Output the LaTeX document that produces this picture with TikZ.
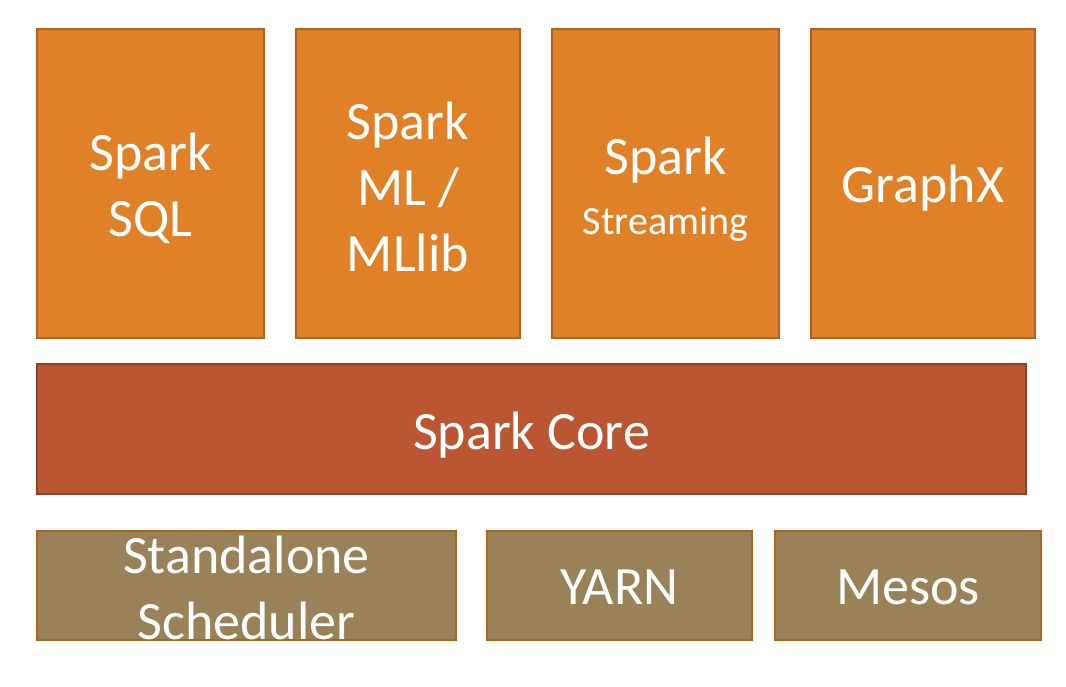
\documentclass[tikz,border=0pt]{standalone}
\usepackage{fontspec}
\setmainfont{Carlito}
\definecolor{toporange}{HTML}{E08128}
\definecolor{topborder}{HTML}{B0631E}
\definecolor{corefill}{HTML}{BA5632}
\definecolor{coreborder}{HTML}{8E3F24}
\definecolor{botfill}{HTML}{9A8258}
\definecolor{botborder}{HTML}{B5621B}
\tikzset{
  blk/.style={rectangle, inner sep=0pt, line width=2.2pt},
  txt/.style={text=white, align=center, inner sep=0pt, yshift=-5pt,
    font=\fontsize{54}{66}\selectfont},
  topbox/.style={blk, fill=toporange, draw=topborder},
  corebox/.style={blk, fill=corefill, draw=coreborder},
  botbox/.style={blk, fill=botfill, draw=botborder},
}
\begin{document}
\begin{tikzpicture}[x=1pt,y=-1pt]
\useasboundingbox (0,0) rectangle (1066,686);
% top row: y 29..338
\node[topbox, minimum width=227pt, minimum height=309pt,
  label={[txt]center:{Spark\\SQL}}] (sql) at (150.5,183.5) {};
\node[topbox, minimum width=224pt, minimum height=309pt,
  label={[txt, yshift=2pt]center:{Spark\\ML /\\MLlib}}] (ml) at (408,183.5) {};
\node[topbox, minimum width=227pt, minimum height=309pt,
  label={[txt, yshift=-1pt]center:{Spark\\[-6pt]{\fontsize{40}{48}\selectfont Streaming}}}] (stream) at (665.5,183.5) {};
\node[topbox, minimum width=224pt, minimum height=309pt,
  label={[txt]center:{GraphX}}] (graphx) at (923,183.5) {};
% core
\node[corebox, minimum width=989pt, minimum height=130pt,
  label={[txt, yshift=-1pt]center:{Spark Core}}] (core) at (531.5,429) {};
% bottom row: y 531..640
\node[botbox, minimum width=419pt, minimum height=109pt,
  label={[txt, yshift=3pt]center:{Standalone\\Scheduler}}] (standalone) at (246.5,585.5) {};
\node[botbox, minimum width=265pt, minimum height=109pt,
  label={[txt, yshift=3pt]center:{YARN}}] (yarn) at (619.5,585.5) {};
\node[botbox, minimum width=266pt, minimum height=109pt,
  label={[txt, yshift=3pt]center:{Mesos}}] (mesos) at (908,585.5) {};
\end{tikzpicture}
\end{document}
